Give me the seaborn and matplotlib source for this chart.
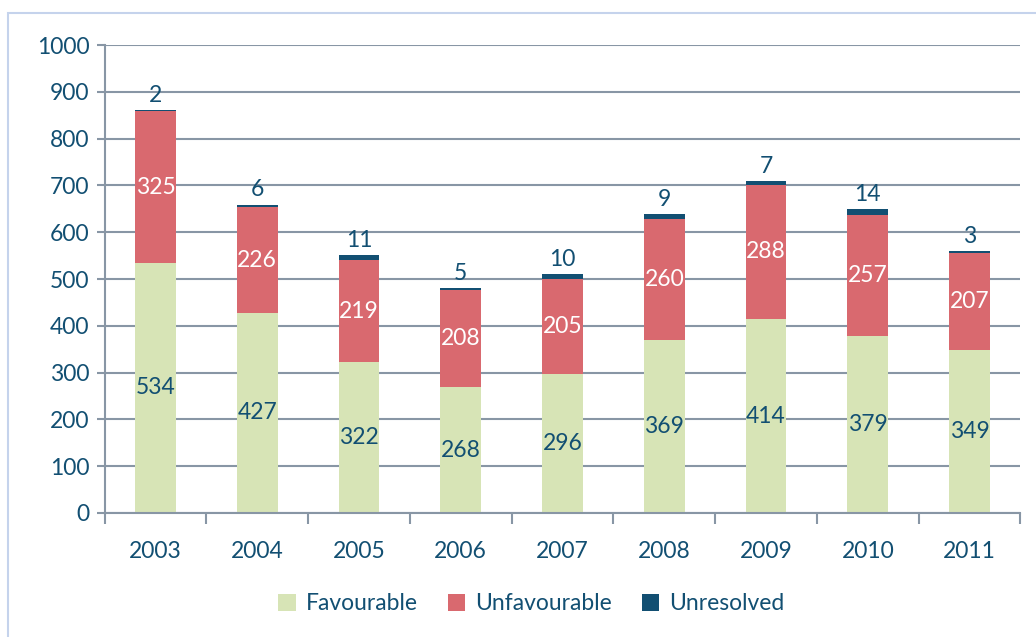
import numpy as np
import matplotlib
matplotlib.use("Agg")
import matplotlib.pyplot as plt
import seaborn as sns
from matplotlib.patches import Rectangle

years = ["2003", "2004", "2005", "2006", "2007", "2008", "2009", "2010", "2011"]
favourable = [534, 427, 322, 268, 296, 369, 414, 379, 349]
unfavourable = [325, 226, 219, 208, 205, 260, 288, 257, 207]
unresolved = [2, 6, 11, 5, 10, 9, 7, 14, 3]

GREEN = "#d7e4b6"
RED = "#d9696f"
DARK = "#124f72"
TEXT = "#124f72"
GRID = "#8896a5"

sns.set_theme(style="white")
plt.rcParams["font.family"] = ["Lato", "DejaVu Sans"]

fig = plt.figure(figsize=(10.36, 6.37), dpi=100)
ax = fig.add_axes([0.101, 0.195, 0.884, 0.734])

# outer light-blue frame like the original chart box
fig.patches.append(Rectangle((0.008, -0.1), 1.2, 1.08, transform=fig.transFigure,
                             fill=False, edgecolor="#c5d3ec", lw=1.5))

fav = np.array(favourable)
unf = np.array(unfavourable)
unr = np.array(unresolved)

bar_kw = dict(width=0.4, saturation=1, ax=ax, linewidth=0, legend=False)
sns.barplot(x=years, y=fav, color=GREEN, label="Favourable", **bar_kw)
sns.barplot(x=years, y=unf, bottom=fav, color=RED, label="Unfavourable", **bar_kw)
sns.barplot(x=years, y=unr, bottom=fav + unf, color=DARK, label="Unresolved", **bar_kw)

c_fav, c_unf, c_unr = ax.containers[:3]
ax.bar_label(c_fav, labels=[str(v) for v in favourable], label_type="center", color=TEXT, fontsize=16.5)
ax.bar_label(c_unf, labels=[str(v) for v in unfavourable], label_type="center", color="white", fontsize=16.5)
ax.bar_label(c_unr, labels=[str(v) for v in unresolved], label_type="edge", padding=3, color=TEXT, fontsize=16.5)

ax.set_ylim(0, 1000)
ax.set_yticks(range(0, 1001, 100))
ax.set_xlim(-0.5, len(years) - 0.5)
ax.yaxis.grid(True, color=GRID, lw=1.5)
ax.set_axisbelow(True)

for s in ["top", "right"]:
    ax.spines[s].set_visible(False)
for s in ["left", "bottom"]:
    ax.spines[s].set_color(GRID)
    ax.spines[s].set_linewidth(1.5)

ax.tick_params(axis="y", colors=GRID, labelcolor=TEXT, labelsize=16.5, length=6, width=1.5, left=True, pad=5)
ax.tick_params(axis="x", which="major", length=0, labelcolor=TEXT, labelsize=16.5, pad=20)
ax.set_xticks(np.arange(-0.5, len(years), 1), minor=True)
ax.tick_params(axis="x", which="minor", length=8, width=1.5, color=GRID, bottom=True)

handles = [c_fav, c_unf, c_unr]
labels = ["Favourable", "Unfavourable", "Unresolved"]
fig.legend(handles, labels, loc="center", bbox_to_anchor=(0.513, 0.052), ncol=3, frameon=False,
           fontsize=16.5, labelcolor=TEXT, handlelength=0.75, handleheight=0.75, handletextpad=0.45,
           columnspacing=1.3)

plt.savefig("out.png", dpi=100)
